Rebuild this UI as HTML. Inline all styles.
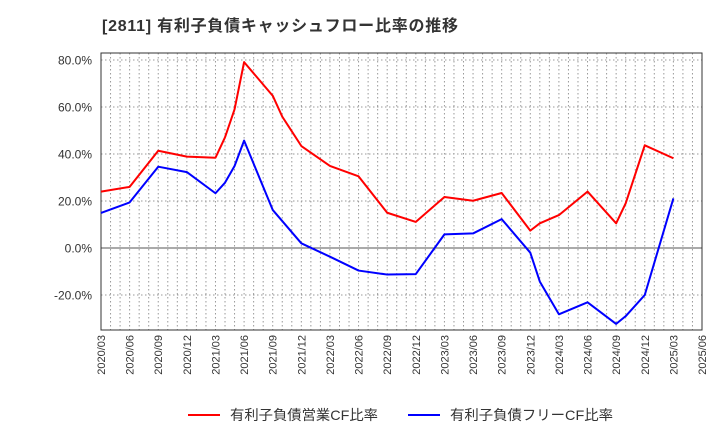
<!DOCTYPE html>
<html><head><meta charset="utf-8"><style>
body{margin:0;background:#fff;font-family:"Liberation Sans","Noto Sans CJK JP",sans-serif;}
</style></head><body>
<svg id="chart" width="720" height="440" xmlns="http://www.w3.org/2000/svg" font-family="Liberation Sans, Noto Sans CJK JP, sans-serif">
<text x="102" y="31" font-size="16" font-weight="bold" fill="#333" textLength="356" lengthAdjust="spacing">[2811]  有利子負債キャッシュフロー比率の推移</text>
<g id="grid"></g><g id="axes"></g><g id="series"></g>
<g>
<line x1="188" y1="415" x2="220" y2="415" stroke="#ff0000" stroke-width="2"/>
<text x="230" y="420" font-size="14" fill="#333" textLength="148" lengthAdjust="spacingAndGlyphs">有利子負債営業CF比率</text>
<line x1="408" y1="415" x2="440" y2="415" stroke="#0000ff" stroke-width="2"/>
<text x="450" y="420" font-size="14" fill="#333" textLength="163" lengthAdjust="spacingAndGlyphs">有利子負債フリーCF比率</text>
</g>
</svg>
<script>
const xTickLabels=["2020/03","2020/06","2020/09","2020/12","2021/03","2021/06","2021/09","2021/12","2022/03","2022/06","2022/09","2022/12","2023/03","2023/06","2023/09","2023/12","2024/03","2024/06","2024/09","2024/12","2025/03","2025/06"];
const yTicks=[-20,0,20,40,60,80];
const redMonths=[0,3,6,9,12,13,14,15,18,19,21,24,27,30,33,36,39,42,45,46,48,51,54,55,57,60];
const redValues=[24.0,26.0,41.4,38.9,38.4,47.1,59.0,79.1,64.8,55.9,43.4,34.9,30.5,15.0,11.1,21.7,20.1,23.4,7.4,10.5,14.0,24.0,10.5,19.0,43.7,38.2];
const blueMonths=[0,3,6,9,12,13,14,15,18,21,24,27,30,33,36,39,42,45,46,48,51,54,55,57,60];
const blueValues=[14.9,19.4,34.6,32.3,23.3,27.8,34.9,45.7,16.2,2.0,-3.7,-9.6,-11.3,-11.1,5.8,6.2,12.3,-2.0,-14.3,-28.2,-23.1,-32.3,-29.0,-20.0,21.1];
const L=101,R=702,T=53,B=330;
const xs=m=>L+m*(R-L)/63;
const ys=v=>248-v*47/20;
const ns="http://www.w3.org/2000/svg";
function mk(p,t,a){const e=document.createElementNS(ns,t);for(const k in a)e.setAttribute(k,a[k]);p.appendChild(e);return e;}
const grid=document.getElementById('grid'),axes=document.getElementById('axes'),ser=document.getElementById('series');
for(let m=0;m<=63;m++){const l=mk(grid,'line',{x1:xs(m),x2:xs(m),y1:T,y2:B,stroke:'#999','stroke-dasharray':'1.5,2.5','stroke-width':1});
}
yTicks.forEach(v=>{const l=mk(grid,'line',{x1:L,x2:R,y1:ys(v),y2:ys(v),stroke:v===0?'#555':'#999','stroke-dasharray':v===0?'':'1.5,2.5','stroke-width':1});

const t=mk(axes,'text',{x:92,y:ys(v)+4.5,'font-size':12,'text-anchor':'end',fill:'#333'});t.textContent=v.toFixed(1)+'%';
});
const fr=mk(axes,'rect',{x:L,y:T,width:R-L,height:B-T,fill:'none',stroke:'#333','stroke-width':1});

xTickLabels.forEach((s,i)=>{const x=xs(i*3);const t=mk(axes,'text',{x:0,y:0,'font-size':11,'text-anchor':'end',fill:'#333',transform:`translate(${x+4},${B+5}) rotate(-90)`});t.textContent=s;
});
function line(ms,vs,c,n){const p=mk(ser,'polyline',{points:ms.map((m,i)=>xs(m)+','+ys(vs[i])).join(' '),fill:'none',stroke:c,'stroke-width':2,'stroke-linejoin':'round'});
}
line(redMonths,redValues,'#ff0000','operating-cf-line');
line(blueMonths,blueValues,'#0000ff','free-cf-line');
</script>
</body></html>
